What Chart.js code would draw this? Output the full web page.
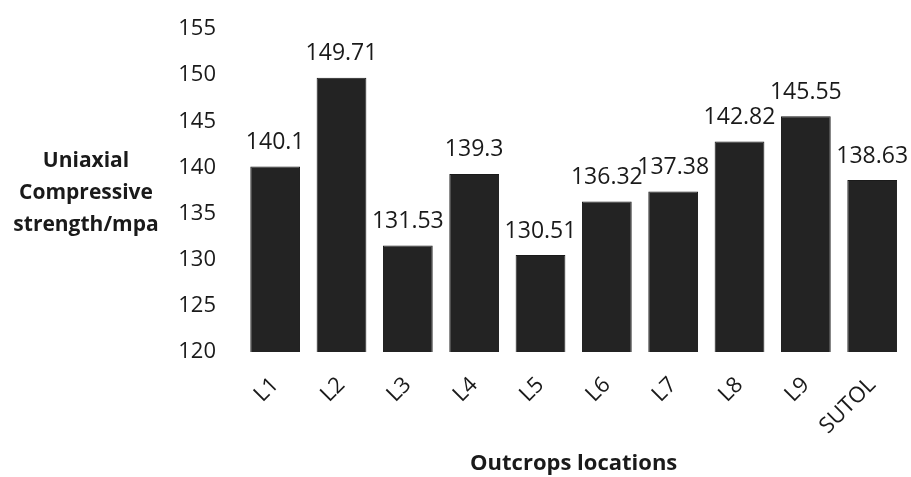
<!DOCTYPE html>
<html>
<head>
<meta charset="utf-8">
<script src="https://cdn.jsdelivr.net/npm/chart.js@4.4.1/dist/chart.umd.min.js"></script>
<style>
  html, body { margin: 0; padding: 0; background: #fff; }
  #wrap { width: 911px; height: 477px; }
</style>
</head>
<body>
<div id="wrap"><canvas id="c" width="911" height="477"></canvas></div>
<script>
const categories = ['L1', 'L2', 'L3', 'L4', 'L5', 'L6', 'L7', 'L8', 'L9', 'SUTOL'];
const strengthValues = [140.1, 149.71, 131.53, 139.3, 130.51, 136.32, 137.38, 142.82, 145.55, 138.63];
const valueLabels = ['140.1', '149.71', '131.53', '139.3', '130.51', '136.32', '137.38', '142.82', '145.55', '138.63'];
const yTitleLines = ['Uniaxial', 'Compressive', 'strength/mpa'];
const xTitle = 'Outcrops locations';

const FONT = "'Open Sans', 'Liberation Sans', sans-serif";

const valueLabelPlugin = {
  id: 'valueLabels',
  afterDatasetsDraw(chart) {
    const ctx = chart.ctx;
    const meta = chart.getDatasetMeta(0);
    ctx.save();
    ctx.font = '23px ' + FONT;
    ctx.fillStyle = '#1a1a1a';
    ctx.textAlign = 'center';
    ctx.textBaseline = 'middle';
    meta.data.forEach((bar, i) => {
      ctx.fillText(valueLabels[i], bar.x, bar.y - 24);
    });
    ctx.restore();
  }
};

const yTitlePlugin = {
  id: 'yTitle',
  afterDraw(chart) {
    const ctx = chart.ctx;
    const area = chart.chartArea;
    const midY = (area.top + area.bottom) / 2;
    ctx.save();
    ctx.font = 'bold 21px ' + FONT;
    ctx.fillStyle = '#1a1a1a';
    ctx.textAlign = 'center';
    ctx.textBaseline = 'middle';
    const lh = 32;
    yTitleLines.forEach((t, i) => {
      ctx.fillText(t, 86, midY + 3 + (i - 1) * lh);
    });
    ctx.restore();
  }
};

new Chart(document.getElementById('c'), {
  type: 'bar',
  data: {
    labels: categories,
    datasets: [{
      data: strengthValues,
      backgroundColor: '#232323',
      borderColor: '#1a1a1a',
      borderWidth: 1,
      barPercentage: 0.75,
      categoryPercentage: 1.0
    }]
  },
  options: {
    responsive: false,
    animation: false,
    layout: { padding: { left: 0, right: 3, top: 29, bottom: 0 } },
    plugins: {
      legend: { display: false },
      tooltip: { enabled: false }
    },
    scales: {
      y: {
        min: 120,
        max: 155,
        ticks: {
          stepSize: 5,
          padding: 26,
          color: '#1a1a1a',
          font: { family: FONT, size: 22 }
        },
        grid: { display: false, drawTicks: false },
        border: { display: false },
        afterFit(scale) {
          scale.width = 242;
          scale.paddingTop = 0;
          scale.paddingBottom = 0;
        }
      },
      x: {
        ticks: {
          minRotation: 45,
          maxRotation: 45,
          padding: 20,
          color: '#1a1a1a',
          font: { family: FONT, size: 22 }
        },
        grid: { display: false, drawTicks: false },
        border: { display: false },
        title: {
          display: true,
          text: xTitle,
          color: '#1a1a1a',
          font: { family: FONT, size: 22, weight: 'bold' },
          padding: { top: 0, bottom: 0 }
        },
        afterFit(scale) { scale.height = 125; }
      }
    }
  },
  plugins: [valueLabelPlugin, yTitlePlugin]
});
</script>
</body>
</html>
